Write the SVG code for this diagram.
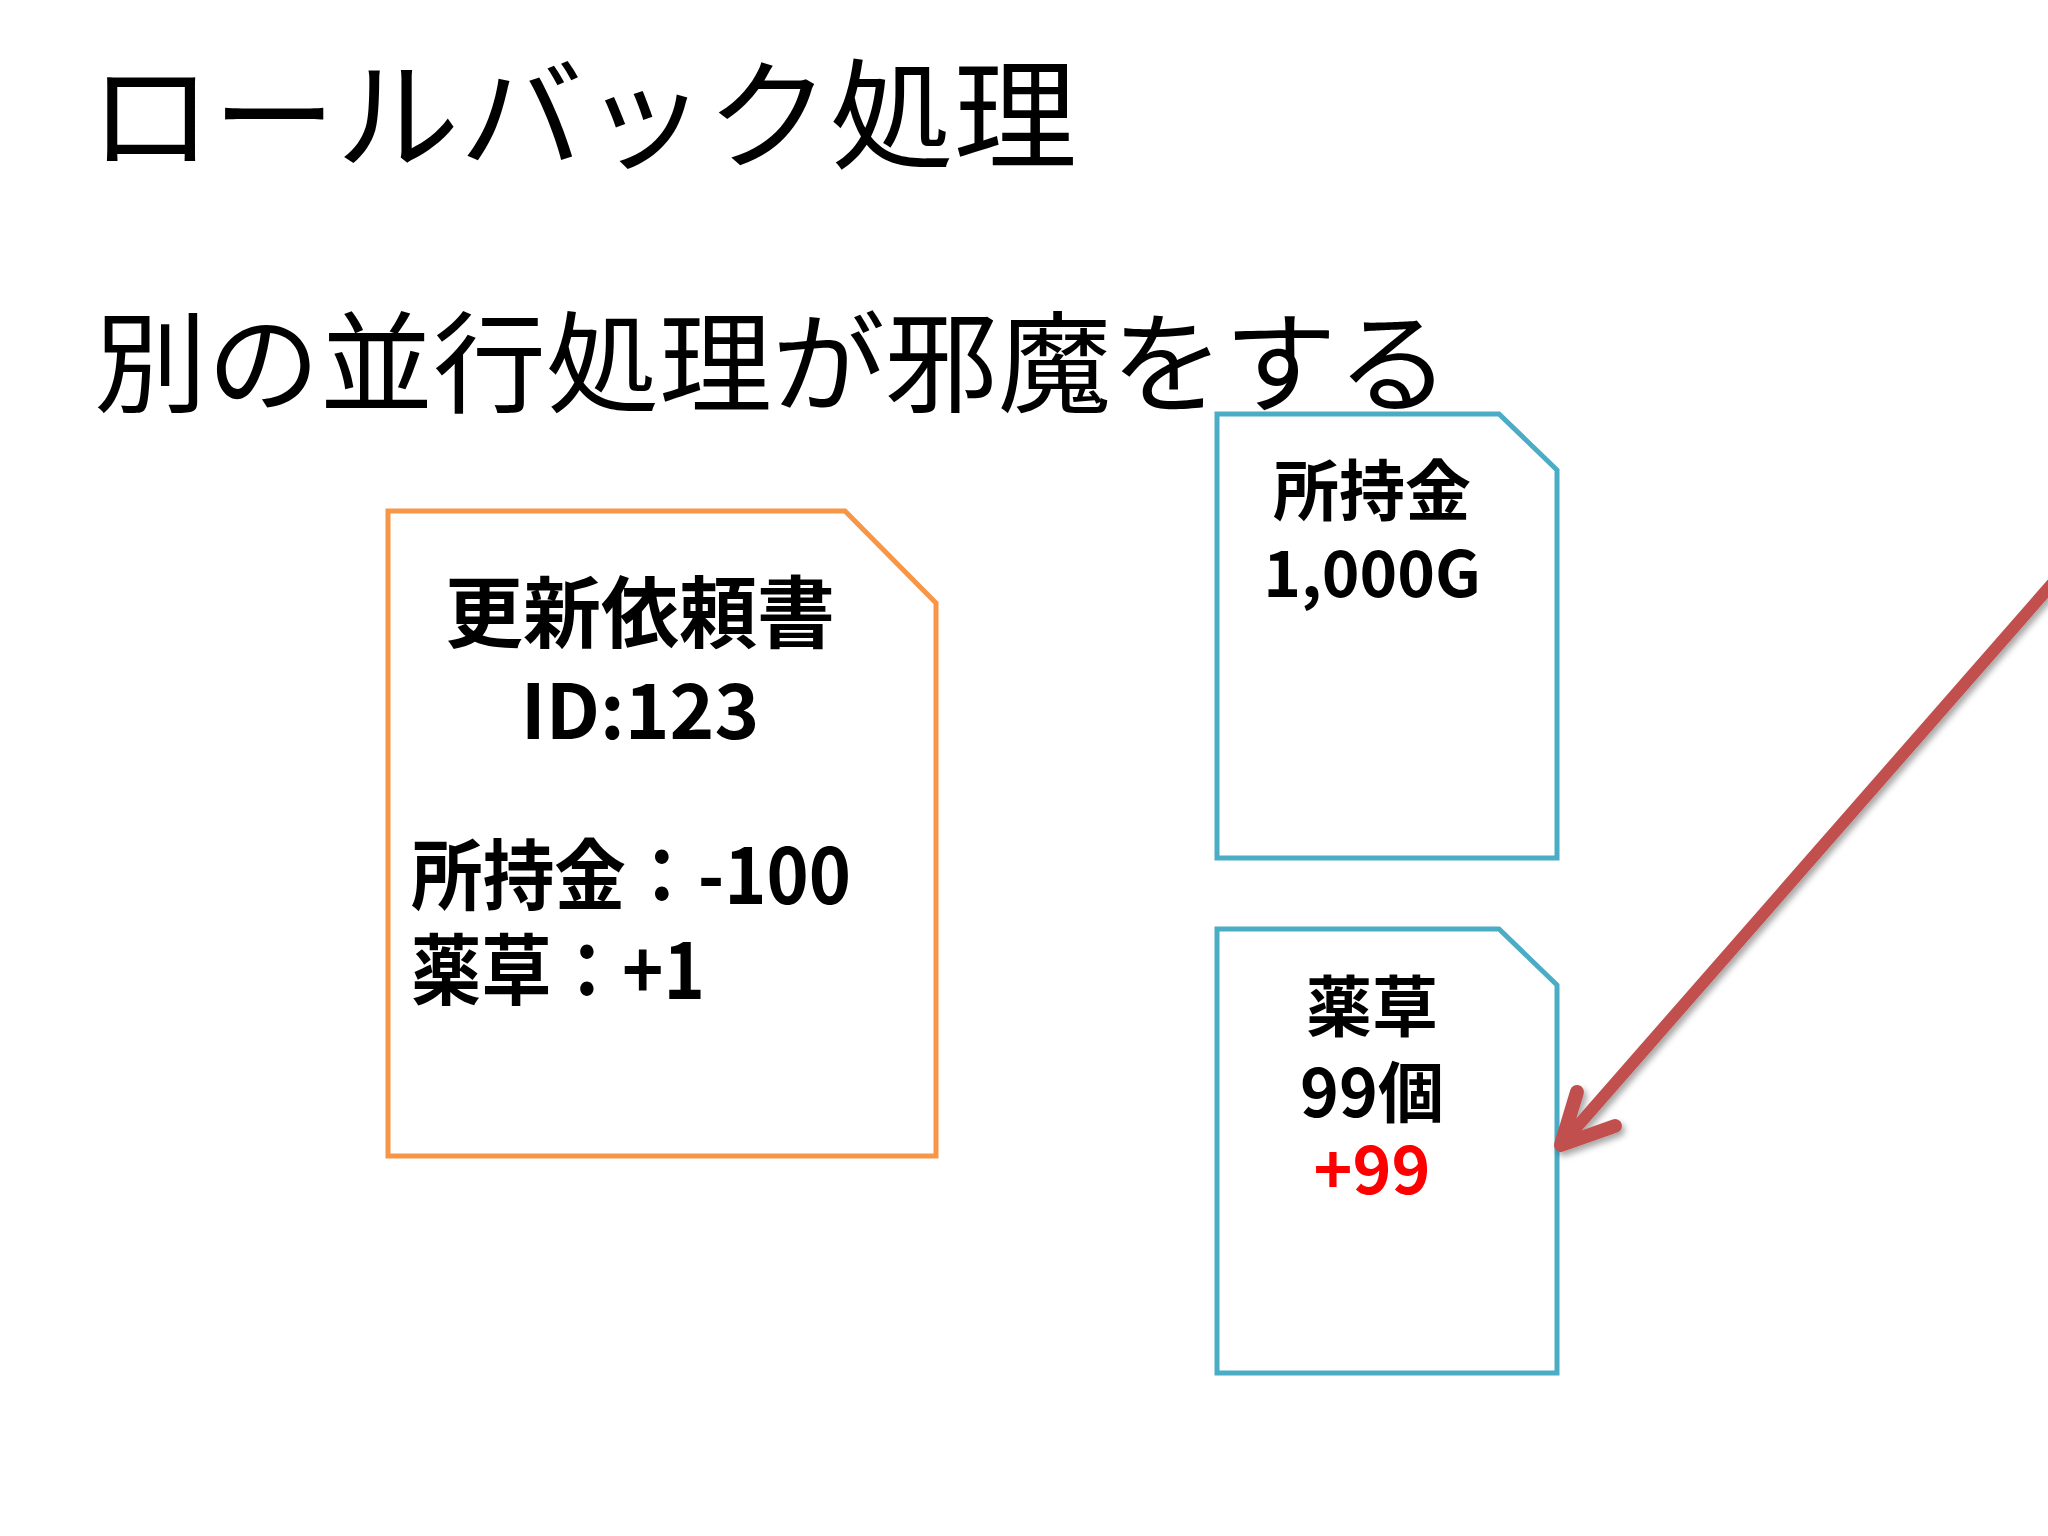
<svg xmlns="http://www.w3.org/2000/svg" width="2048" height="1536" viewBox="0 0 2048 1536">
<style>
.h{font-family:"Noto Sans CJK JP","Noto Sans CJK SC",sans-serif;fill:#000;font-weight:400}
.t{font-family:"Noto Sans CJK JP","Noto Sans CJK SC",sans-serif;fill:#000;font-weight:700}
.doc{fill:#fff;stroke-width:5;stroke-linejoin:miter}
.or{stroke:#F79646}
.bl{stroke:#4BACC6}
.arrow{fill:none;stroke:#C0504D;stroke-width:12;stroke-linecap:round;stroke-linejoin:round}
</style>
<defs>
<filter id="sh" x="-10%" y="-10%" width="130%" height="130%">
<feDropShadow dx="3" dy="4" stdDeviation="3" flood-color="#000" flood-opacity="0.35"/>
</filter>
</defs>
<rect width="2048" height="1536" fill="#fff"/>
<text class="h" x="89" y="160" font-size="120" textLength="988" lengthAdjust="spacingAndGlyphs">ロールバック処理</text>
<text class="h" x="94" y="404" font-size="110" textLength="1356" lengthAdjust="spacingAndGlyphs">別の並行処理が邪魔をする</text>
<g id="request">
<path class="doc or" d="M388,511 H845 L936,603 V1156 H388 Z"/>
<text class="t" x="640" y="642" font-size="78" text-anchor="middle">更新依頼書</text>
<text class="t" x="640" y="739" font-size="76" text-anchor="middle">ID:123</text>
<text class="t" x="411" y="904" font-size="77" textLength="440" lengthAdjust="spacingAndGlyphs">所持金：-100</text>
<text class="t" x="411" y="999" font-size="77" textLength="294" lengthAdjust="spacingAndGlyphs">薬草：+1</text>
</g>
<g id="gold">
<path class="doc bl" d="M1217,414 H1499 L1557,470 V858 H1217 Z"/>
<text class="t" x="1372" y="515" font-size="66" text-anchor="middle">所持金</text>
<text class="t" x="1372" y="597" font-size="64" text-anchor="middle">1,000G</text>
</g>
<g id="herb">
<path class="doc bl" d="M1217,929 H1499 L1557,985 V1373 H1217 Z"/>
<text class="t" x="1372" y="1031" font-size="66" text-anchor="middle">薬草</text>
<text class="t" x="1372" y="1117" font-size="66" text-anchor="middle">99個</text>
<text class="t" x="1372" y="1194" font-size="66" text-anchor="middle" style="fill:#FF0000">+99</text>
</g>
<g id="connectors" filter="url(#sh)">
<path class="arrow" d="M2052,584 L1561,1145"/>
<path class="arrow" style="stroke-width:14" d="M1577,1092 L1561,1145 L1615,1126"/>
</g>
</svg>
